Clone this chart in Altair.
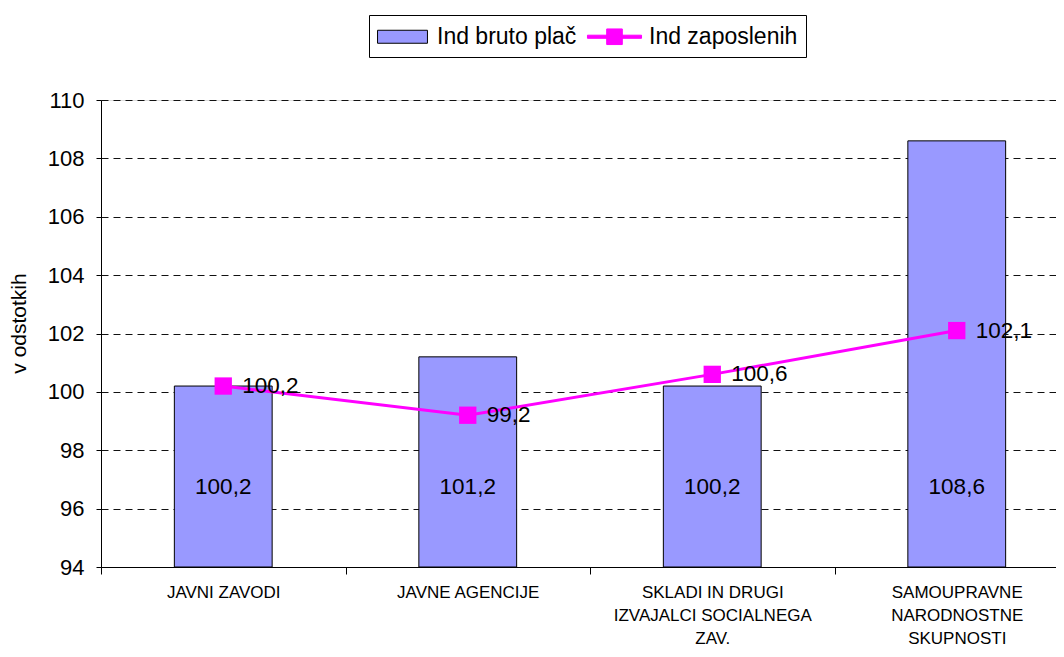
import altair as alt
import pandas as pd

# ---- data ----
categories = [
    "JAVNI ZAVODI",
    "JAVNE AGENCIJE",
    "SKLADI IN DRUGI|IZVAJALCI SOCIALNEGA|ZAV.",
    "SAMOUPRAVNE|NARODNOSTNE|SKUPNOSTI",
]
bruto_place = [100.2, 101.2, 100.2, 108.6]
zaposleni = [100.2, 99.2, 100.6, 102.1]
series_names = ["Ind bruto plač", "Ind zaposlenih"]
y_ticks = [94, 96, 98, 100, 102, 104, 106, 108, 110]
y_title = "v odstotkih"

FONT = "Liberation Sans"
BAR_FILL = "#9999FF"
LINE_COL = "#FF00FF"


def fmt(v):
    return f"{v:.1f}".replace(".", ",")


df = pd.DataFrame({"cat": categories, "bruto": bruto_place, "zap": zaposleni})
df["bruto_lbl"] = df["bruto"].map(fmt)
df["zap_lbl"] = df["zap"].map(fmt)
legend_df = pd.DataFrame({"series": series_names})

x_enc = alt.X(
    "cat:N",
    sort=categories,
    scale=alt.Scale(range=[0, 978], paddingInner=0, paddingOuter=0),
    axis=alt.Axis(
        title=None,
        labelExpr="split(datum.label, '|')",
        labelAngle=0,
        labelLimit=400,
        tickBand="extent",
        tickSize=7,
        tickColor="black",
        domainColor="black",
        labelFont=FONT,
        labelFontSize=17,
        labelColor="black",
        labelPadding=10,
        labelLineHeight=23,
        labelBaseline="top",
        grid=False,
    ),
)

y_scale = alt.Scale(domain=[94, 110], nice=False, zero=False)
y_axis = alt.Axis(
    values=y_ticks,
    title=y_title,
    titleFont=FONT,
    titleFontSize=21,
    titleFontWeight="normal",
    titleColor="black",
    titlePadding=18,
    titleY=223,
    labelFont=FONT,
    labelFontSize=22,
    labelColor="black",
    labelPadding=12,
    tickSize=5,
    tickColor="black",
    domainColor="black",
    grid=True,
    gridColor="#111111",
    gridDash=[7, 5],
    gridWidth=1,
)

base = alt.Chart(df)

bars = base.mark_bar(width={"band": 0.4}, fill=BAR_FILL, stroke="black", strokeWidth=1).encode(
    x=x_enc,
    y=alt.Y("bruto:Q", scale=y_scale, axis=y_axis, title=y_title),
    y2=alt.datum(94),
)

bar_labels = base.mark_text(font=FONT, fontSize=22.5, color="black", baseline="middle").encode(
    x=alt.X("cat:N", sort=categories),
    y=alt.datum(96.75, type="quantitative"),
    text="bruto_lbl:N",
)

line = base.mark_line(color=LINE_COL, strokeWidth=3).encode(
    x=alt.X("cat:N", sort=categories),
    y=alt.Y("zap:Q", axis=y_axis, title=y_title),
)

points = base.mark_square(size=300, color=LINE_COL, opacity=1).encode(
    x=alt.X("cat:N", sort=categories),
    y=alt.Y("zap:Q", axis=y_axis, title=y_title),
)

line_labels = base.mark_text(
    font=FONT, fontSize=22.5, color="black", align="left", baseline="middle", dx=19
).encode(
    x=alt.X("cat:N", sort=categories),
    y=alt.Y("zap:Q", axis=y_axis, title=y_title),
    text="zap_lbl:N",
)

# legend-only layer (no data rows drawn)
rect_path = "M-1.92,-0.5H1.92V0.5H-1.92Z"
line_path = "M-2.08,-0.12H2.08V0.12H-2.08Z M-0.6,-0.6H0.6V0.6H-0.6Z"
leg = alt.Legend(
    title=None,
    orient="none",
    legendX=268,
    legendY=-85,
    direction="horizontal",
    strokeColor="black",
    fillColor="white",
    padding=8,
    labelFont=FONT,
    labelFontSize=23,
    labelColor="black",
    symbolSize=676,
    symbolStrokeWidth=1,
    symbolOffset=12,
    labelOffset=21,
    columnPadding=8,
)
legend_layer = (
    alt.Chart(legend_df)
    .mark_point(filled=True, opacity=1)
    .encode(
        fill=alt.Fill("series:N", scale=alt.Scale(domain=series_names, range=[BAR_FILL, LINE_COL]), legend=leg),
        stroke=alt.Stroke("series:N", scale=alt.Scale(domain=series_names, range=["black", LINE_COL]), legend=leg),
        shape=alt.Shape("series:N", scale=alt.Scale(domain=series_names, range=[rect_path, line_path]), legend=leg),
    )
    .transform_filter("false")
)

chart = (
    alt.layer(bars, bar_labels, line, points, line_labels, legend_layer)
    .properties(
        width=955,
        height=467,
        autosize=alt.AutoSizeParams(type="none"),
        padding={"left": 93, "top": 92, "right": 0, "bottom": 82},
        background="white",
    )
    .configure_view(strokeWidth=0, strokeOpacity=0)
    .configure(font=FONT)
)

chart.save("out.html", embed_options={"renderer": "svg", "actions": False})
